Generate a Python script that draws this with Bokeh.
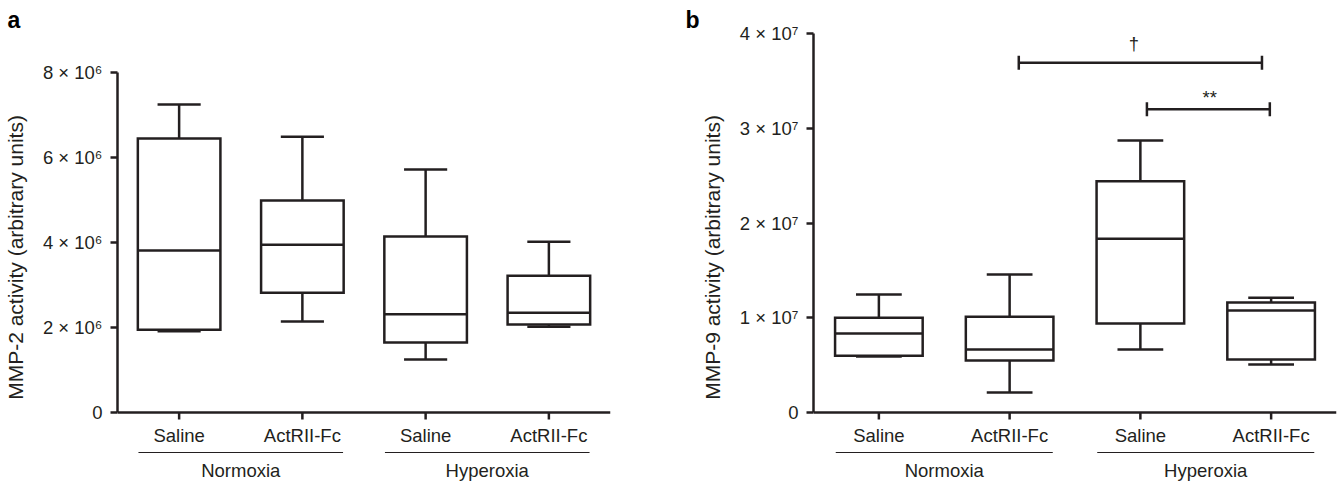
from bokeh.plotting import figure
from bokeh.layouts import row
from bokeh.models import Range1d, FixedTicker, ColumnDataSource, Title
from bokeh.core.properties import value
from bokeh.embed import file_html
from bokeh.resources import INLINE

# ---------------- data ----------------
categories = ["Saline", "ActRII-Fc", "Saline", "ActRII-Fc"]
positions = [1, 2, 3, 4]
groups = ["Normoxia", "Hyperoxia"]
group_members = [[1, 2], [3, 4]]

# Panel a: MMP-2 activity
mmp2_low = [1.91e6, 2.14e6, 1.25e6, 2.02e6]
mmp2_q1 = [1.95e6, 2.82e6, 1.65e6, 2.07e6]
mmp2_median = [3.81e6, 3.95e6, 2.31e6, 2.35e6]
mmp2_q3 = [6.45e6, 4.99e6, 4.14e6, 3.22e6]
mmp2_high = [7.25e6, 6.49e6, 5.72e6, 4.02e6]
mmp2_ticks = [0, 2e6, 4e6, 6e6, 8e6]
mmp2_tick_labels = ["0", "2 × 10⁶", "4 × 10⁶", "6 × 10⁶", "8 × 10⁶"]

# Panel b: MMP-9 activity
mmp9_low = [0.59e7, 0.21e7, 0.665e7, 0.506e7]
mmp9_q1 = [0.60e7, 0.548e7, 0.94e7, 0.56e7]
mmp9_median = [0.833e7, 0.665e7, 1.835e7, 1.076e7]
mmp9_q3 = [1.00e7, 1.01e7, 2.44e7, 1.16e7]
mmp9_high = [1.245e7, 1.456e7, 2.87e7, 1.21e7]
mmp9_ticks = [0, 1e7, 2e7, 3e7, 4e7]
mmp9_tick_labels = ["0", "1 × 10⁷", "2 × 10⁷", "3 × 10⁷", "4 × 10⁷"]

# significance brackets (panel b)
sig_text = ["†", "**"]
sig_x0 = [2.07, 3.05]
sig_x1 = [3.93, 3.99]
sig_y = [3.69e7, 3.20e7]
sig_text_x = [2.95, 3.53]

# ---------------- style ----------------
INK = "#231f20"
FONT = "Liberation Sans"
LW = 2.5
FIG_H = 482
FRAME_TOP_PX = 32
FRAME_BOTTOM_PX = 482
BOX_W = 0.67
CAP_W = 0.35


def make_panel(letter, letter_offset, width, border_left, border_right, zero_px, top_px, y_top,
               ticks, tick_labels, ylabel, low, q1, med, q3, high):
    upp = y_top / (zero_px - top_px)  # data units per pixel
    y_start = -(FRAME_BOTTOM_PX - zero_px) * upp
    y_end = y_top + (top_px - FRAME_TOP_PX) * upp
    xmin, xmax = min(positions) - 0.5, max(positions) + 0.5
    title = Title(text=letter, align="left", offset=letter_offset, standoff=0,
                  text_font=FONT, text_font_size="23px", text_font_style="bold",
                  text_color="black")
    p = figure(width=width, height=FIG_H, title=title,
               x_range=Range1d(xmin, xmax), y_range=Range1d(y_start, y_end),
               x_axis_location=None, toolbar_location=None, output_backend="svg",
               min_border_left=border_left, min_border_right=border_right,
               min_border_top=FRAME_TOP_PX, min_border_bottom=0,
               outline_line_color=None, background_fill_color="white",
               border_fill_color="white")
    p.grid.visible = False

    ax = p.yaxis[0]
    ax.ticker = FixedTicker(ticks=ticks)
    ax.bounds = (ticks[0], ticks[-1])
    ax.major_label_overrides = {int(t): s for t, s in zip(ticks, tick_labels)}
    ax.minor_tick_line_color = None
    ax.major_tick_in = 0
    ax.major_tick_out = 7
    ax.major_tick_line_width = LW
    ax.major_tick_line_color = INK
    ax.axis_line_width = LW
    ax.axis_line_color = INK
    ax.major_label_text_font = FONT
    ax.major_label_text_font_size = "18.5px"
    ax.major_label_text_color = INK
    ax.major_label_standoff = 8
    ax.axis_label = ylabel
    ax.axis_label_text_font = FONT
    ax.axis_label_text_font_size = "21px"
    ax.axis_label_text_font_style = "normal"
    ax.axis_label_text_color = INK
    ax.axis_label_standoff = 13

    src = ColumnDataSource(dict(
        x=positions, low=low, q1=q1, med=med, q3=q3, high=high,
        left=[x - BOX_W / 2 for x in positions],
        right=[x + BOX_W / 2 for x in positions],
        cl=[x - CAP_W / 2 for x in positions],
        cr=[x + CAP_W / 2 for x in positions],
    ))
    # whiskers
    p.segment(x0="x", y0="q3", x1="x", y1="high", source=src, line_color=INK, line_width=LW)
    p.segment(x0="x", y0="q1", x1="x", y1="low", source=src, line_color=INK, line_width=LW)
    p.segment(x0="cl", y0="high", x1="cr", y1="high", source=src, line_color=INK, line_width=LW)
    p.segment(x0="cl", y0="low", x1="cr", y1="low", source=src, line_color=INK, line_width=LW)
    # boxes
    p.quad(left="left", right="right", bottom="q1", top="q3", source=src,
           fill_color="white", line_color=INK, line_width=LW, line_join="miter")
    p.segment(x0="left", y0="med", x1="right", y1="med", source=src, line_color=INK, line_width=LW)

    # x axis (drawn at y = 0)
    p.segment(x0=[xmin], y0=[0], x1=[xmax], y1=[0], line_color=INK, line_width=LW)
    p.segment(x0=positions, y0=[0] * 4, x1=positions, y1=[-7 * upp] * 4,
              line_color=INK, line_width=LW)
    p.text(x=positions, y=[-23 * upp] * 4, text=categories,
           text_font=value(FONT), text_font_size=value("18.5px"), text_color=INK,
           text_align="center", text_baseline="middle")
    centers = [sum(m) / len(m) for m in group_members]
    p.segment(x0=[c - 0.83 for c in centers], y0=[-40 * upp] * 2,
              x1=[c + 0.83 for c in centers], y1=[-40 * upp] * 2,
              line_color=INK, line_width=1.2)
    p.text(x=centers, y=[-58 * upp] * 2, text=groups,
           text_font=value(FONT), text_font_size=value("18.5px"), text_color=INK,
           text_align="center", text_baseline="middle")
    return p, upp


# figure 1: canvas x 0..684, frame 117..610
p1, upp1 = make_panel("a", -110, 684, 117, 74, 412, 72, 8e6, mmp2_ticks, mmp2_tick_labels,
                      "MMP-2 activity (arbitrary units)",
                      mmp2_low, mmp2_q1, mmp2_median, mmp2_q3, mmp2_high)
# figure 2: canvas x 684..1342, frame 813..1336
p2, upp2 = make_panel("b", -128, 658, 129, 6, 412, 33, 4e7, mmp9_ticks, mmp9_tick_labels,
                      "MMP-9 activity (arbitrary units)",
                      mmp9_low, mmp9_q1, mmp9_median, mmp9_q3, mmp9_high)

# significance brackets
p2.segment(x0=sig_x0, y0=sig_y, x1=sig_x1, y1=sig_y, line_color=INK, line_width=LW)
p2.segment(x0=sig_x0, y0=[y - 7 * upp2 for y in sig_y], x1=sig_x0,
           y1=[y + 7 * upp2 for y in sig_y], line_color=INK, line_width=LW)
p2.segment(x0=sig_x1, y0=[y - 7 * upp2 for y in sig_y], x1=sig_x1,
           y1=[y + 7 * upp2 for y in sig_y], line_color=INK, line_width=LW)
p2.text(x=sig_text_x, y=[sig_y[0] + 19 * upp2, sig_y[1] + 12 * upp2], text=sig_text,
        text_font=value(FONT), text_font_size=value("18.5px"), text_color=INK,
        text_align="center", text_baseline="middle")

layout = row(p1, p2)
open("out.html", "w").write(file_html(layout, INLINE))
